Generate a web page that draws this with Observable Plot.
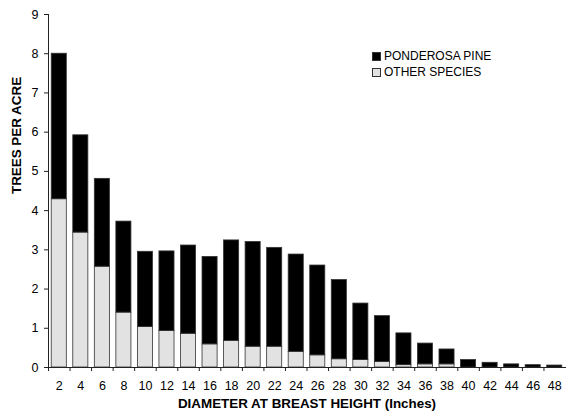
<!DOCTYPE html>
<html>
<head>
<meta charset="utf-8">
<script src="https://cdn.jsdelivr.net/npm/d3@7"></script>
<script src="https://cdn.jsdelivr.net/npm/@observablehq/plot@0.6"></script>
<style>
  html, body { margin: 0; padding: 0; background: #fff; }
  #wrap { position: relative; width: 567px; height: 417px; font-family: "Liberation Sans", Arial, sans-serif; }
  .legend { position: absolute; left: 372px; top: 48px; font-size: 12px; color: #000; line-height: 16px; }
  .legend div { display: flex; align-items: center; }
  .legend span.sw { display: inline-block; width: 7px; height: 7px; border: 1px solid #333; margin-right: 3px; }
</style>
</head>
<body>
<div id="wrap">
  <div class="legend">
    <div><span class="sw" style="background:#000"></span>PONDEROSA PINE</div>
    <div><span class="sw" style="background:#e2e2e2"></span>OTHER SPECIES</div>
  </div>
</div>
<script>
const diameters = [2, 4, 6, 8, 10, 12, 14, 16, 18, 20, 22, 24, 26, 28, 30, 32, 34, 36, 38, 40, 42, 44, 46, 48];
const totalTrees = [8.0, 5.92, 4.81, 3.72, 2.95, 2.96, 3.11, 2.82, 3.24, 3.20, 3.05, 2.88, 2.60, 2.23, 1.63, 1.31, 0.87, 0.61, 0.46, 0.19, 0.12, 0.08, 0.06, 0.05];
const otherSpecies = [4.29, 3.44, 2.57, 1.40, 1.03, 0.93, 0.86, 0.59, 0.68, 0.53, 0.53, 0.40, 0.31, 0.21, 0.19, 0.14, 0.06, 0.08, 0.08, 0, 0, 0, 0, 0];
const yTicks = [0, 1, 2, 3, 4, 5, 6, 7, 8, 9];
const seriesNames = ["OTHER SPECIES", "PONDEROSA PINE"];
const seriesColors = ["#e2e2e2", "#000000"];

const rows = [];
diameters.forEach((d, i) => {
  rows.push({dbh: String(d), species: seriesNames[0], value: otherSpecies[i]});
  rows.push({dbh: String(d), species: seriesNames[1], value: totalTrees[i] - otherSpecies[i]});
});

const W = 567, H = 417, mL = 48, mR = 2, mT = 14, mB = 50;
const step = (W - mL - mR) / diameters.length;

const chart = Plot.plot({
  width: W,
  height: H,
  marginLeft: mL,
  marginRight: mR,
  marginTop: mT,
  marginBottom: mB,
  style: {fontFamily: "'Liberation Sans', Arial, sans-serif", fontSize: "12px", color: "#000", background: "#fff"},
  x: {domain: diameters.map(String), paddingInner: 0.3, paddingOuter: 0.15, round: false, label: null},
  y: {domain: [0, 9], label: null},
  color: {domain: seriesNames, range: seriesColors},
  marks: [
    Plot.barY(rows, Plot.stackY({
      x: "dbh", y: "value", fill: "species", order: seriesNames,
      stroke: "#333", strokeWidth: 0.8
    })),
    Plot.frame({anchor: "left", stroke: "#222"}),
    Plot.frame({anchor: "bottom", stroke: "#222"}),
    Plot.axisY(yTicks, {tickSize: 4, tickPadding: 6, fontSize: 12.5, stroke: "#222"}),
    Plot.axisX({tickSize: 0, tickPadding: 14, fontSize: 12.5, label: null}),
    Plot.axisX({tickSize: 4, text: null, dx: -step / 2, stroke: "#222", label: null}),
    Plot.text(["TREES PER ACRE"], {frameAnchor: "left", rotate: -90, dx: -32, dy: 3, fontWeight: "bold", fontSize: 13.4}),
    Plot.text(["DIAMETER AT BREAST HEIGHT (Inches)"], {frameAnchor: "bottom", dy: 40, fontWeight: "bold", fontSize: 13.4})
  ]
});
document.getElementById("wrap").prepend(chart);
chart.style.position = "absolute";
chart.style.left = "0";
chart.style.top = "0";
</script>
</body>
</html>
